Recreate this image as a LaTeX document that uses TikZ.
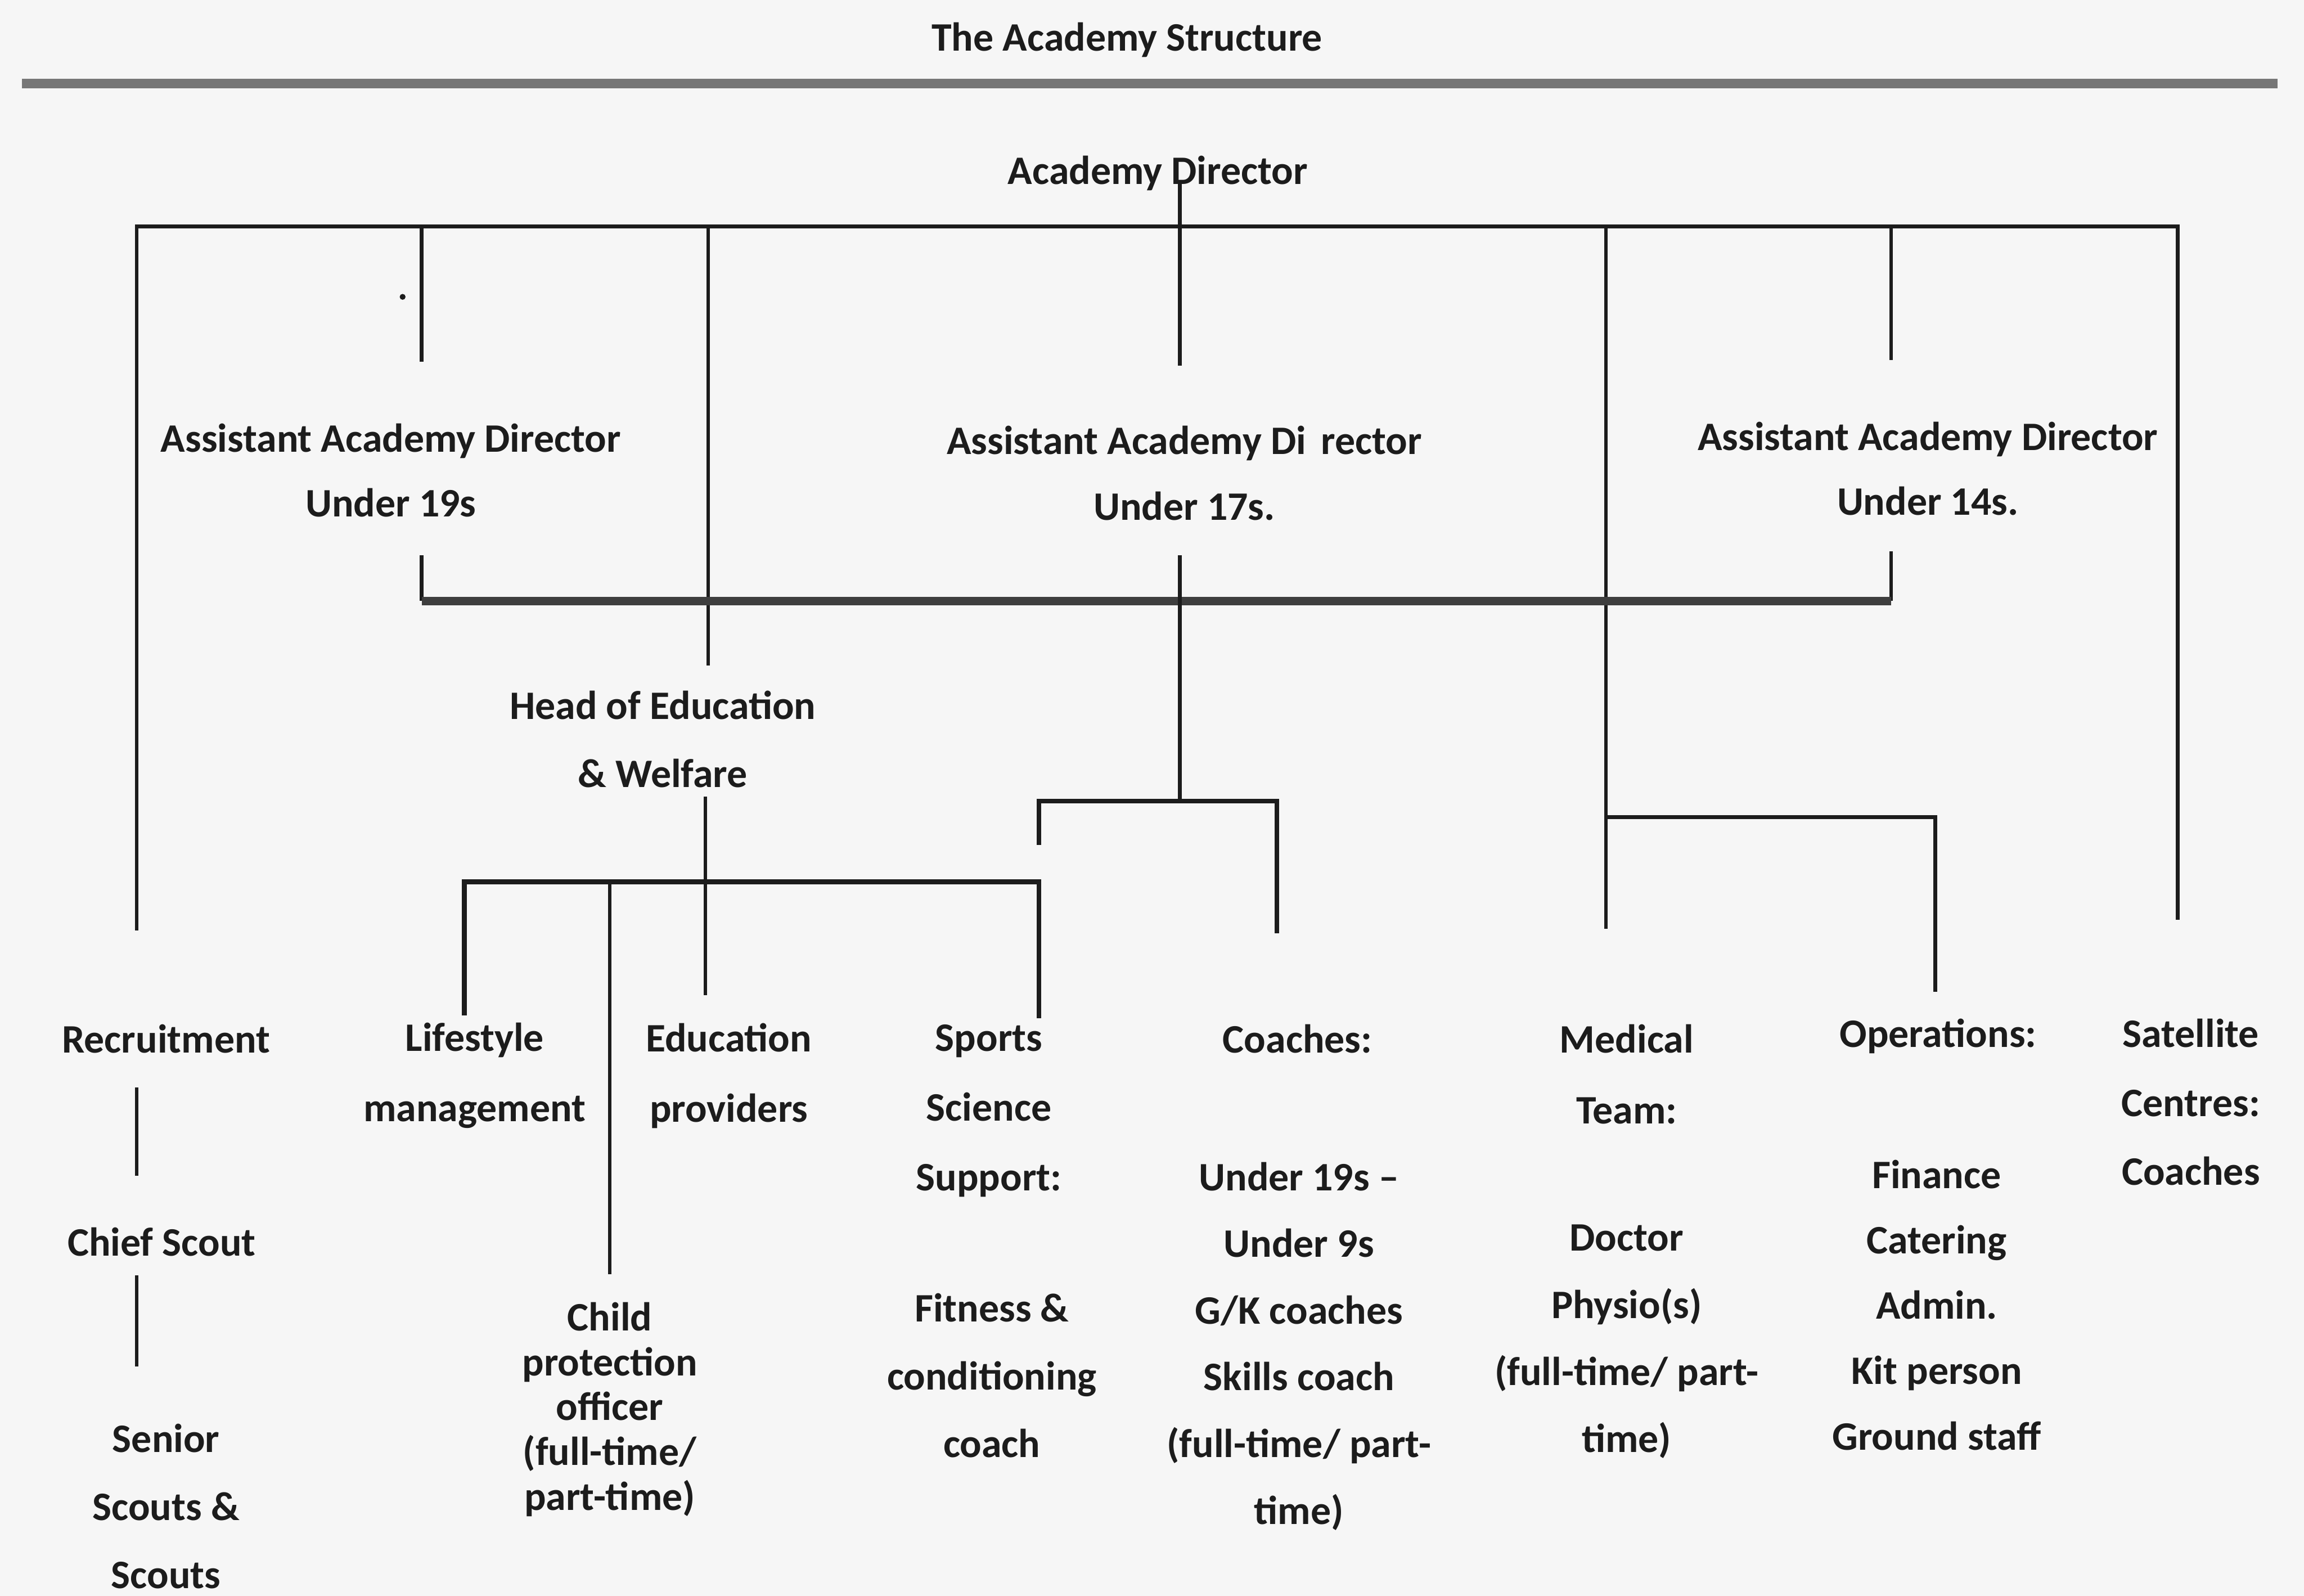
\documentclass[tikz,border=0pt]{standalone}
\usepackage{fontspec}
\setmainfont{Carlito}
\definecolor{ink}{HTML}{1C1C1C}
\definecolor{rulegray}{HTML}{777777}
\definecolor{paper}{HTML}{F6F6F6}
\begin{document}
\begin{tikzpicture}[x=1pt,y=-1pt,
  lbl/.style={font=\bfseries\fontsize{27.5}{#1}\selectfont, text=ink, inner sep=0pt, align=center},
  lbl/.default=46,
  link/.style={draw=ink, line width=2.5pt},
  bar/.style={draw=ink!85, line width=5.5pt},
  bracket/.style={draw=ink, line width=3.2pt},
]
\useasboundingbox (0,0) rectangle (1568,1086);
\fill[paper] (0,0) rectangle (1568,1086);

% heading and rule
\node[lbl] (title) at (767,27) {The Academy Structure};
\coordinate (ruleL) at (15,57);
\coordinate (ruleR) at (1550,57);
\draw[rulegray, line width=6.5pt] (ruleL) -- (ruleR);

% top tier
\node[lbl] (ad) at (788,118) {Academy Director};
\node[lbl=44] (a19) at (266,320) {Assistant Academy Director\\Under 19s};
\node[lbl=45] (a17) at (806,322) {Assistant Academy Di\hspace{10pt}rector\\Under 17s.};
\node[lbl=44] (a14) at (1312,319) {Assistant Academy Director\\Under 14s.};
\node[lbl] (hoe) at (451,503) {Head of Education\\\& Welfare};

% bottom tier
\node[lbl] (rec) at (113,707) {Recruitment};
\node[lbl] (chief) at (110,845) {Chief Scout};
\node[lbl=46.5] (senior) at (113,1025) {Senior\\Scouts \&\\Scouts};
\node[lbl=48] (life) at (323,732) {Lifestyle\\management};
\node[lbl=48] (edu) at (496,732) {Education\\providers};
\node[lbl=30.5] (child) at (415,959) {Child\\protection\\officer\\(full-time/\\part-time)};
\node[lbl=47.5] (sports) at (673,756) {Sports\\Science\\Support:};
\node[lbl=46] (fitness) at (675,936) {Fitness \&\\conditioning\\coach};
\node[lbl] (coaches) at (883,707) {Coaches:};
\node[lbl=45.4] (coachlist) at (884,916) {Under 19s --\\Under 9s\\G/K coaches\\Skills coach\\(full-time/ part-\\time)};
\node[lbl=48] (medical) at (1107,731) {Medical\\Team:};
\node[lbl=45.7] (medlist) at (1107,913) {Doctor\\Physio(s)\\(full-time/ part-\\time)};
\node[lbl] (ops) at (1319,705) {Operations:};
\node[lbl=44.5] (opslist) at (1318,888) {Finance\\Catering\\Admin.\\Kit person\\Ground staff};
\node[lbl=47] (sat) at (1491,750) {Satellite\\Centres:\\Coaches};

% junction points of the main bus
\coordinate (adFoot) at (803,124);
\coordinate (busL) at (93,154);
\coordinate (busR) at (1482,154);
\coordinate (busA) at (287,154);
\coordinate (busB) at (482,154);
\coordinate (busC) at (803,154);
\coordinate (busD) at (1093,154);
\coordinate (busE) at (1287,154);
\coordinate (recTop) at (93,633);
\coordinate (satTop) at (1482,626);
\coordinate (a19Top) at (287,246);
\coordinate (hoeTop) at (482,453);
\coordinate (a17Top) at (803,249);
\coordinate (medTop) at (1093,632);
\coordinate (a14Top) at (1287,245);

\draw[link] (recTop) -- (busL) -- (busR) -- (satTop);
\draw[link] (busA) -- (a19Top);
\draw[link] (busB) -- (hoeTop);
\draw[link] (adFoot) -- (busC) -- (a17Top);
\draw[link] (busD) -- (medTop);
\draw[link] (busE) -- (a14Top);

% second bus below the assistant directors
\coordinate (a19Foot) at (287,378);
\coordinate (a17Foot) at (803,378);
\coordinate (a14Foot) at (1287,375);
\coordinate (midL) at (287,409);
\coordinate (midR) at (1287,409);
\coordinate (coachBus) at (803,545);
\draw[link] (a19Foot) -- (midL);
\draw[link] (a14Foot) -- (midR);
\draw[bar] (midL) -- (midR);
\draw[link] (a17Foot) -- (coachBus);

% coaching bracket
\coordinate (cbL) at (707,545);
\coordinate (cbR) at (869,545);
\coordinate (cbLfoot) at (707,575);
\coordinate (cbRfoot) at (869,635);
\draw[bracket] (cbLfoot) -- (cbL) -- (cbR) -- (cbRfoot);

% medical and operations bracket
\coordinate (mbL) at (1093,556);
\coordinate (mbR) at (1317,556);
\coordinate (opsTop) at (1317,675);
\draw[link] (mbL) -- (mbR) -- (opsTop);

% education and welfare branch
\coordinate (hoeFoot) at (480,542);
\coordinate (hoeEnd) at (480,677);
\coordinate (ebL) at (316,600);
\coordinate (ebC) at (415,600);
\coordinate (ebR) at (707,600);
\coordinate (lifeTop) at (316,691);
\coordinate (childTop) at (415,867);
\coordinate (sportsTop) at (707,693);
\draw[link] (hoeFoot) -- (hoeEnd);
\draw[bracket] (lifeTop) -- (ebL) -- (ebR) -- (sportsTop);
\draw[link] (ebC) -- (childTop);

% recruitment chain
\coordinate (r1) at (93,740);
\coordinate (r2) at (93,800);
\coordinate (r3) at (93,868);
\coordinate (r4) at (93,930);
\draw[link] (r1) -- (r2);
\draw[link] (r3) -- (r4);

% stray mark beside the first branch
\fill[ink] (274,202) circle (2pt);
\end{tikzpicture}
\end{document}
